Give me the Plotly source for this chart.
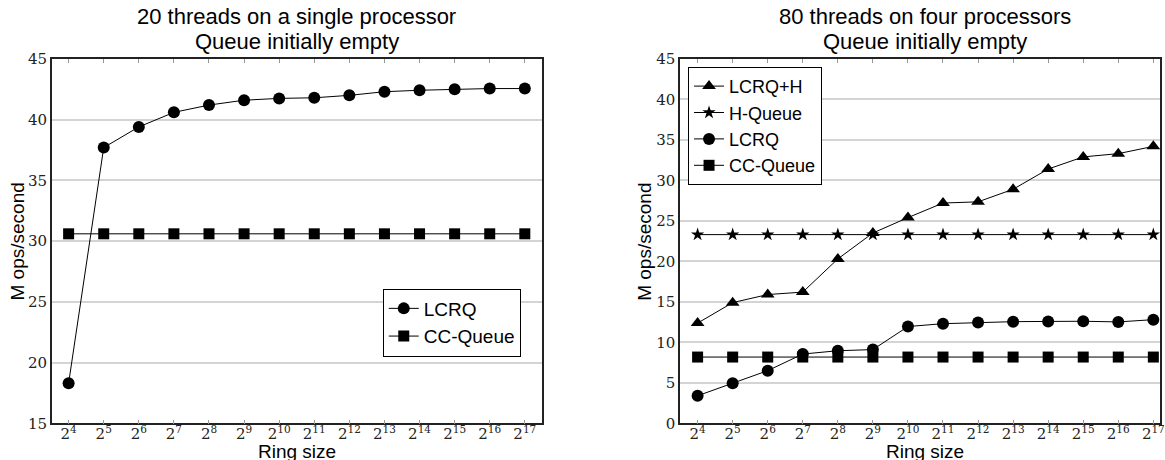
import plotly.graph_objects as go

exponents = list(range(4, 18))
tick_labels = [f"2<sup>{e}</sup>" for e in exponents]

left_lcrq = [18.3, 37.7, 39.4, 40.6, 41.2, 41.6, 41.75, 41.8, 42.0, 42.3, 42.42, 42.5, 42.56, 42.56]
left_ccq = [30.6] * 14

right_lcrqh = [12.37, 14.9, 15.9, 16.2, 20.3, 23.5, 25.4, 27.2, 27.35, 28.9, 31.4, 32.9, 33.3, 34.2]
right_hq = [23.3] * 14
right_lcrq = [3.4, 4.95, 6.5, 8.55, 8.96, 9.1, 11.95, 12.3, 12.45, 12.55, 12.58, 12.6, 12.52, 12.8]
right_ccq = [8.18] * 14

W, H = 1165, 478
line = dict(color="black", width=1)

fig = go.Figure()

def add(y, name, symbol, size, xa, ya, legend):
    fig.add_trace(go.Scatter(
        x=exponents, y=y, name=name, mode="lines+markers",
        line=line, marker=dict(symbol=symbol, size=size, color="black"),
        xaxis=xa, yaxis=ya, legend=legend, cliponaxis=False))

add(left_lcrq, "LCRQ", "circle", 12, "x", "y", "legend")
add(left_ccq, "CC-Queue", "square", 11, "x", "y", "legend")
add(right_lcrqh, "LCRQ+H", "triangle-up", 12, "x2", "y2", "legend2")
add(right_hq, "H-Queue", "star", 10, "x2", "y2", "legend2")
add(right_lcrq, "LCRQ", "circle", 12, "x2", "y2", "legend2")
add(right_ccq, "CC-Queue", "square", 11, "x2", "y2", "legend2")

px = lambda v: v / W
fy = lambda p: (p - 7) / 0.964
py = lambda p: 1 - fy(p) / H

tickfont = dict(family="DejaVu Serif", size=15, color="#222")
xcommon = dict(tickmode="array", tickvals=exponents, ticktext=tick_labels,
               ticks="inside", ticklen=4, tickcolor="#999", tickwidth=1,
               showline=True, linecolor="#222", linewidth=1.5, mirror="ticks",
               showgrid=False, zeroline=False, tickfont=tickfont,
               ticklabeloverflow="allow", ticklabelstandoff=-4)
ycommon = dict(showline=True, linecolor="#222", linewidth=1.5, mirror=True,
               showgrid=True, gridcolor="#d4d4d4", gridwidth=1.5, zeroline=False,
               ticks="", tickfont=tickfont, dtick=5)

fig.update_layout(
    width=W, height=H, margin=dict(l=0, r=0, t=0, b=0),
    paper_bgcolor="white", plot_bgcolor="white",
    font=dict(family="Liberation Sans", color="black"),
    xaxis=dict(domain=[px(52), px(544)], range=[3.52, 17.48], anchor="y", **xcommon),
    yaxis=dict(domain=[py(422), py(57)], range=[15, 45], anchor="x",
               tickvals=[15, 20, 25, 30, 35, 40, 45], **ycommon),
    xaxis2=dict(domain=[px(683), 1.0], range=[3.5, 17.19], anchor="y2", **xcommon),
    yaxis2=dict(domain=[py(422), py(57)], range=[0, 45], anchor="x2",
                tickvals=list(range(0, 50, 5)), **ycommon),
    legend=dict(x=px(523), xanchor="right", y=py(287), yanchor="top",
                bgcolor="white", bordercolor="black", borderwidth=1,
                font=dict(family="Liberation Sans", size=19, color="black")),
    legend2=dict(x=px(691), xanchor="left", y=py(65), yanchor="top",
                 bgcolor="white", bordercolor="black", borderwidth=1,
                 font=dict(family="Liberation Sans", size=18, color="black")),
    showlegend=True,
)

ann_font = dict(family="Liberation Sans", size=22, color="black")
lab_font = dict(family="Liberation Sans", size=19, color="black")
annotations = [
    dict(text="20 threads on a single processor", x=px(298), y=py(15), font=ann_font),
    dict(text="Queue initially empty", x=px(298), y=py(40), font=ann_font),
    dict(text="80 threads on four processors", x=px(929), y=py(15), font=ann_font),
    dict(text="Queue initially empty", x=px(929), y=py(40), font=ann_font),
    dict(text="Ring size", x=px(298), y=py(450), font=lab_font),
    dict(text="Ring size", x=px(929), y=py(450), font=lab_font),
    dict(text="M ops/second", x=px(18), y=py(240), textangle=-90, font=lab_font),
    dict(text="M ops/second", x=px(647), y=py(240), textangle=-90, font=lab_font),
]
for a in annotations:
    a.update(xref="paper", yref="paper", showarrow=False, xanchor="center", yanchor="middle")
fig.update_layout(annotations=annotations)

fig.write_html("out.html", config={"displayModeBar": False},
               post_script="document.body.style.margin='0';document.body.style.overflow='hidden';")
